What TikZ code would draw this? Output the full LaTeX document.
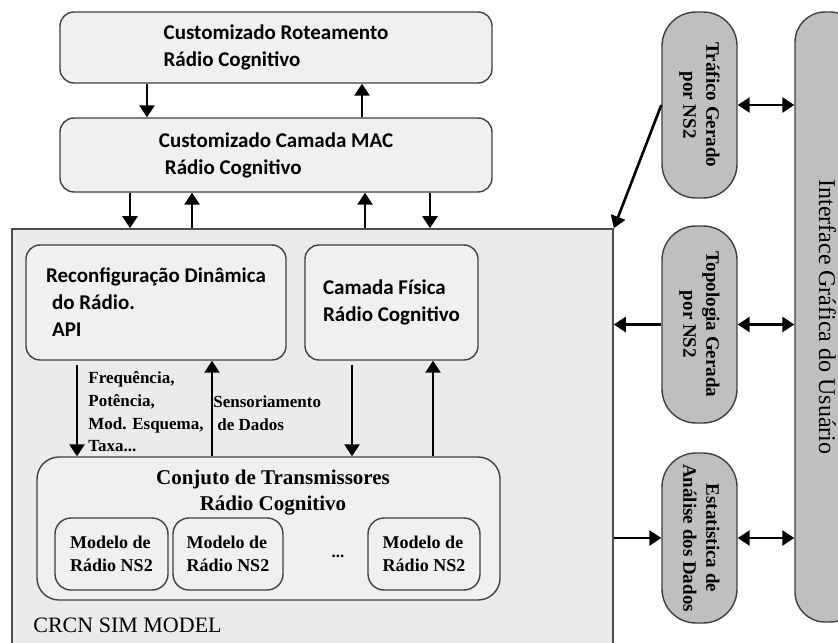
\documentclass[tikz,border=0pt]{standalone}
\usepackage{fontspec}
\setmainfont{Liberation Serif}
\newfontfamily\calfont{Carlito}
\usetikzlibrary{arrows.meta}

\begin{document}
\begin{tikzpicture}[x=0.5pt,y=-0.5pt,
 box/.style={draw=black!75, fill=black!6, rounded corners=7pt, line width=0.7pt, inner sep=0pt, align=left},
 cal/.style={font=\calfont\bfseries\fontsize{10.5}{13.5}\selectfont},
 radbox/.style={box, rounded corners=8pt, font=\bfseries\fontsize{9}{11.5}\selectfont},
 pill/.style={draw=black!75, fill=black!25, rounded corners=17pt, line width=0.7pt, minimum width=37.5pt, inner sep=0pt, font=\bfseries\fontsize{9.5}{11.5}\selectfont},
 arr/.style={line width=1.3pt, -{Triangle[width=7.5pt,length=6pt]}},
 darr/.style={line width=1.3pt, {Triangle[width=7.5pt,length=6pt]}-{Triangle[width=7.5pt,length=6pt]}}]
%\draw[help lines] (0,0) grid[step=50] (838,642);
\clip (0,0) rectangle (838,642);
\fill[white] (0,0) rectangle (838,642);

 \node[box, cal, minimum width=216pt, minimum height=35.5pt] (rot) at (276,47.5) {Customizado Roteamento\\Rádio Cognitivo};
 \node[box, cal, minimum width=216pt, minimum height=37pt] (mac) at (276,155) {Customizado Camada MAC\\\hspace{3pt}Rádio Cognitivo};

 \node[draw=black!70, fill=black!8, line width=0.8pt, minimum width=300.5pt, minimum height=210.5pt, inner sep=0pt] (crcn) at (312.5,439.5) {};

 \node[box, cal, minimum width=130pt, minimum height=57.5pt] (reconf) at (156,302.5) {Reconfiguração Dinâmica\\\hspace{3pt}do Rádio.\\\hspace{3pt}API};
 \node[box, cal, minimum width=86.5pt, minimum height=57.5pt] (fisica) at (391.5,302.5) {Camada Física\\Rádio Cognitivo};

 \node[box, rounded corners=11pt, minimum width=231.5pt, minimum height=71.5pt] (conj) at (268.5,528.5) {};
 \node[inner sep=0pt, align=center, font=\bfseries\fontsize{10.5}{13}\selectfont] (conjtit) at (273,493) {Conjuto de Transmissores\\Rádio Cognitivo};

 \node[radbox, minimum width=56.5pt, minimum height=36pt] (rad1) at (111.5,554) {Modelo de\\Rádio NS2};
 \node[radbox, minimum width=55pt, minimum height=36pt] (rad2) at (228,554) {Modelo de\\Rádio NS2};
 \node[font=\bfseries\fontsize{8.5}{11}\selectfont] (dots) at (338,556) {...};
 \node[radbox, minimum width=56pt, minimum height=36pt] (rad3) at (424,554) {Modelo de\\Rádio NS2};

 \node[anchor=west, inner sep=0pt, align=left, font=\bfseries\fontsize{8.5}{11.3}\selectfont] (ctrl) at (88,412) {Frequência,\\Potência,\\Mod. Esquema,\\Taxa...};
 \node[anchor=west, inner sep=0pt, align=left, font=\bfseries\fontsize{8.5}{11.3}\selectfont] (sens) at (213,413) {Sensoriamento\\\hspace{2pt}de Dados};
 \node[anchor=west, inner sep=0pt, font=\fontsize{11}{13}\selectfont] (crcnlbl) at (33,625) {CRCN SIM MODEL};

 % modulos externos
 \node[pill, minimum height=93pt] (traf) at (699.5,105) {\rotatebox{-90}{\begin{tabular}{@{}c@{}}Tráfico Gerado\\por NS2\end{tabular}}};
 \node[pill, minimum height=98.5pt] (topo) at (699.5,324.5) {\rotatebox{-90}{\begin{tabular}{@{}c@{}}Topologia Gerada\\por NS2\end{tabular}}};
 \node[pill, minimum height=85pt] (estat) at (699.5,538) {\rotatebox{-90}{\begin{tabular}{@{}c@{}}Estatistica de\\Análise dos Dados\end{tabular}}};
 \node[pill, rounded corners=15pt, minimum width=32.5pt, minimum height=305pt, font=\fontsize{12}{14}\selectfont] (gui) at (827.5,317) {\rotatebox{-90}{Interface Gráfica do Usuário}};

 \draw[arr] (147,0 |- rot.south) -- (147,0 |- mac.north);
 \draw[arr] (362,0 |- mac.north) -- (362,0 |- rot.south);
 \draw[arr] (130,0 |- mac.south) -- (130,0 |- crcn.north);
 \draw[arr] (192,0 |- crcn.north) -- (192,0 |- mac.south);
 \draw[arr] (365,0 |- crcn.north) -- (365,0 |- mac.south);
 \draw[arr] (430,0 |- mac.south) -- (430,0 |- crcn.north);

 \draw[arr, shorten <=2pt] (77,0 |- reconf.south) -- (77,0 |- conj.north);
 \draw[arr] (212,0 |- conj.north) -- (212,0 |- reconf.south);
 \draw[arr, shorten <=2pt] (352,0 |- fisica.south) -- (352,0 |- conj.north);
 \draw[arr] (433,0 |- conj.north) -- (433,0 |- fisica.south);

 \draw[arr] (traf.west) -- (crcn.north east);
 \draw[darr] (traf.east) -- (traf.east -| gui.west);
 \draw[arr] (topo.west) -- (topo.west -| crcn.east);
 \draw[darr] (topo.east) -- (topo.east -| gui.west);
 \draw[arr] (estat.west -| crcn.east) -- (estat.west);
 \draw[darr] (estat.east) -- (estat.east -| gui.west);

\end{tikzpicture}
\end{document}
